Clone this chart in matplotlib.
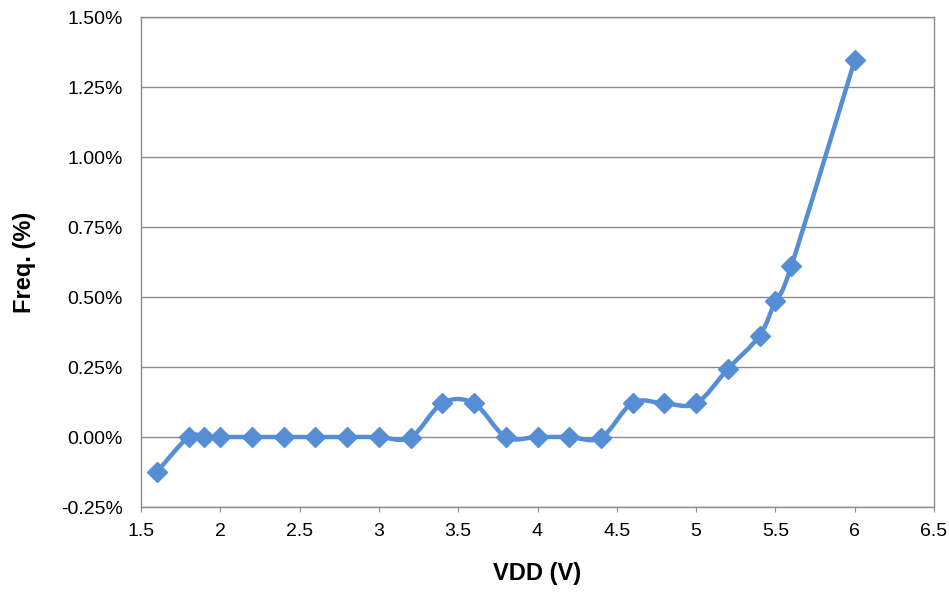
"""
VDD vs frequency deviation, Excel-style smoothed line
"""

import numpy as np

import matplotlib

matplotlib.use("Agg")

import matplotlib.pyplot as plt
from matplotlib.path import Path
from matplotlib.patches import PathPatch
from matplotlib.ticker import FuncFormatter, MultipleLocator

# ==========================================================
# Data
# ==========================================================

vdd = [1.6, 1.8, 1.9, 2.0, 2.2, 2.4, 2.6, 2.8, 3.0, 3.2, 3.4, 3.6, 3.8,
       4.0, 4.2, 4.4, 4.6, 4.8, 5.0, 5.2, 5.4, 5.5, 5.6, 6.0]

freq = [-0.125, 0.0, 0.0, 0.0, 0.0, 0.0, 0.0, 0.0, 0.0, -0.002, 0.121, 0.120,
        0.0, 0.0, 0.0, -0.003, 0.122, 0.120, 0.120, 0.243, 0.362, 0.486,
        0.610, 1.345]

y_ticks = [-0.25, 0.0, 0.25, 0.5, 0.75, 1.0, 1.25, 1.5]

LINE_COLOR = "#558ED5"
GRID_COLOR = "#8C8C8C"

plt.rcParams["font.family"] = ["Liberation Sans", "DejaVu Sans"]

# ==========================================================
# Smoothed curve (Excel-like Bezier through the points)
# ==========================================================

def smooth_path(x, y, tension=1.0 / 6.0):

    x = np.asarray(x, dtype=float)
    y = np.asarray(y, dtype=float)

    verts = [(x[0], y[0])]
    codes = [Path.MOVETO]

    n = len(x)

    for i in range(n - 1):

        x0, y0 = (x[i - 1], y[i - 1]) if i > 0 else (x[i], y[i])
        x3, y3 = (x[i + 2], y[i + 2]) if i + 2 < n else (x[i + 1], y[i + 1])

        c1 = (x[i] + (x[i + 1] - x0) * tension, y[i] + (y[i + 1] - y0) * tension)
        c2 = (x[i + 1] - (x3 - x[i]) * tension, y[i + 1] - (y3 - y[i]) * tension)

        verts += [c1, c2, (x[i + 1], y[i + 1])]
        codes += [Path.CURVE4] * 3

    return Path(verts, codes)

# ==========================================================
# Plot
# ==========================================================

fig = plt.figure(figsize=(9.49, 5.92), dpi=100)

ax = fig.add_axes([141 / 949, 85 / 592, 793 / 949, 490 / 592])

ax.add_patch(PathPatch(smooth_path(vdd, freq), facecolor="none",
                       edgecolor=LINE_COLOR, lw=3.2, capstyle="round",
                       joinstyle="round", zorder=3))

ax.plot(vdd, freq, linestyle="none", marker="D", markersize=10,
        color=LINE_COLOR, zorder=4)

ax.set_xlim(1.5, 6.5)
ax.set_ylim(-0.25, 1.5)

ax.xaxis.set_major_locator(MultipleLocator(0.5))
ax.set_yticks(y_ticks)

ax.xaxis.set_major_formatter(FuncFormatter(lambda v, p: f"{v:g}"))
ax.yaxis.set_major_formatter(FuncFormatter(lambda v, p: f"{v:.2f}%"))

ax.grid(axis="y", color=GRID_COLOR, lw=1)
ax.set_axisbelow(True)

for side in ["left", "right", "top", "bottom"]:
    ax.spines[side].set_color(GRID_COLOR)
    ax.spines[side].set_linewidth(1)

ax.tick_params(axis="x", direction="out", length=3.6, color=GRID_COLOR,
               labelsize=14, pad=8)
ax.tick_params(axis="y", length=0, labelsize=14, pad=13)

ax.set_xlabel("VDD (V)", fontsize=17, fontweight="bold", labelpad=16)
ax.set_ylabel("Freq. (%)", fontsize=17, fontweight="bold", labelpad=18)

fig.savefig("out.png", dpi=100)
